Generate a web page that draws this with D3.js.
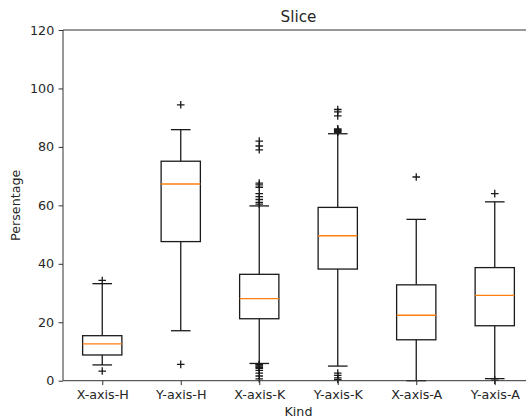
<!DOCTYPE html>
<html><head><meta charset="utf-8">
<script src="https://cdn.jsdelivr.net/npm/d3@7"></script>
<style>body{margin:0;background:#fff}svg{display:block}text{font-family:"DejaVu Sans",sans-serif;fill:#262626}</style>
</head><body><svg id="c" width="526" height="418"></svg>
<script>
const categories = ["X-axis-H","Y-axis-H","X-axis-K","Y-axis-K","X-axis-A","Y-axis-A"];
const q1 =        [8.8, 47.6, 21.2, 38.2, 14.0, 18.8];
const medians =   [12.6, 67.3, 28.1, 49.6, 22.4, 29.2];
const q3 =        [15.4, 75.1, 36.4, 59.3, 32.8, 38.7];
const whiskLow =  [5.4, 17.1, 5.9, 5.0, 0.0, 0.7];
const whiskHigh = [33.2, 85.9, 59.8, 84.5, 55.2, 61.2];
const outliers = [
  [34.3, 3.3],
  [94.4, 5.6],
  [82.0, 80.3, 79.0, 67.6, 67.0, 66.2, 64.0, 63.0, 62.0, 61.0, 60.4, 5.6, 5.3, 5.0, 4.6, 4.2, 3.5, 2.6, 1.6, 0.6],
  [92.8, 92.0, 90.6, 86.2, 85.9, 85.6, 85.3, 85.0, 2.6, 1.8, 1.0, 0.4],
  [69.7],
  [64.0, 0.2]
];
const yTicks = [0, 20, 40, 60, 80, 100, 120];

const L = 63, R = 534, T = 30, B = 380.7;
const svg = d3.select("#c");
const x = d3.scaleLinear().domain([0.5, 6.5]).range([L, R]);
const y = d3.scaleLinear().domain([0, 120]).range([B, T]);
const unit = x(2) - x(1);
const ink = "#1a1a1a";

const g = svg.append("g");
categories.forEach((c, i) => {
  const cx = x(i + 1);
  const bw = unit * 0.5, cw = unit * 0.25;
  g.append("line").attr("x1", cx).attr("x2", cx).attr("y1", y(q3[i])).attr("y2", y(whiskHigh[i])).attr("stroke", ink).attr("stroke-width", 1.3);
  g.append("line").attr("x1", cx).attr("x2", cx).attr("y1", y(q1[i])).attr("y2", y(whiskLow[i])).attr("stroke", ink).attr("stroke-width", 1.3);
  [whiskHigh[i], whiskLow[i]].forEach(v => {
    g.append("line").attr("x1", cx - cw/2).attr("x2", cx + cw/2).attr("y1", y(v)).attr("y2", y(v)).attr("stroke", ink).attr("stroke-width", 1.3);
  });
  g.append("rect").attr("x", cx - bw/2).attr("width", bw).attr("y", y(q3[i])).attr("height", y(q1[i]) - y(q3[i]))
    .attr("fill", "none").attr("stroke", ink).attr("stroke-width", 1.3);
  g.append("line").attr("x1", cx - bw/2).attr("x2", cx + bw/2).attr("y1", y(medians[i])).attr("y2", y(medians[i])).attr("stroke", "#ff7f0e").attr("stroke-width", 1.3);
  outliers[i].forEach(v => {
    const py = y(v), s = 3.8;
    g.append("path").attr("d", `M${cx - s},${py}H${cx + s}M${cx},${py - s}V${py + s}`).attr("stroke", ink).attr("stroke-width", 1.3).attr("fill", "none");
  });
});

const yAxis = d3.axisLeft(y).tickValues(yTicks).tickSize(4.4).tickPadding(4.4).tickFormat(d3.format("d"));
const ya = svg.append("g").attr("transform", `translate(${L},0)`).call(yAxis);
const xAxis = d3.axisBottom(x).tickValues(d3.range(1, 7)).tickSize(4.4).tickPadding(4.4).tickFormat((d) => categories[d - 1]);
const xa = svg.append("g").attr("transform", `translate(0,${B})`).call(xAxis);
[ya, xa].forEach(a => {
  a.select(".domain").remove();
  a.selectAll(".tick line").attr("stroke", "#333").attr("stroke-width", 1.0);
  a.selectAll("text").attr("font-size", "12.7px").attr("font-family", "DejaVu Sans").attr("fill", "#262626");
});
svg.append("line").attr("x1", L).attr("x2", L).attr("y1", T).attr("y2", B).attr("stroke", "#333").attr("stroke-width", 1.0);
svg.append("line").attr("x1", L).attr("x2", R).attr("y1", B).attr("y2", B).attr("stroke", "#333").attr("stroke-width", 1.0);
svg.append("line").attr("x1", L).attr("x2", R).attr("y1", T).attr("y2", T).attr("stroke", "#333").attr("stroke-width", 1.0);
svg.append("line").attr("x1", R).attr("x2", R).attr("y1", T).attr("y2", B).attr("stroke", "#333").attr("stroke-width", 1.0);

svg.append("text").attr("x", (L + R) / 2).attr("y", 21.5).attr("text-anchor", "middle").attr("font-size", "15.2px").text("Slice");
svg.append("text").attr("x", (L + R) / 2).attr("y", 416).attr("text-anchor", "middle").attr("font-size", "12.7px").text("Kind");
svg.append("text").attr("transform", `translate(20,${(T + B) / 2}) rotate(-90)`).attr("text-anchor", "middle").attr("font-size", "12.7px").text("Persentage");
</script></body></html>
